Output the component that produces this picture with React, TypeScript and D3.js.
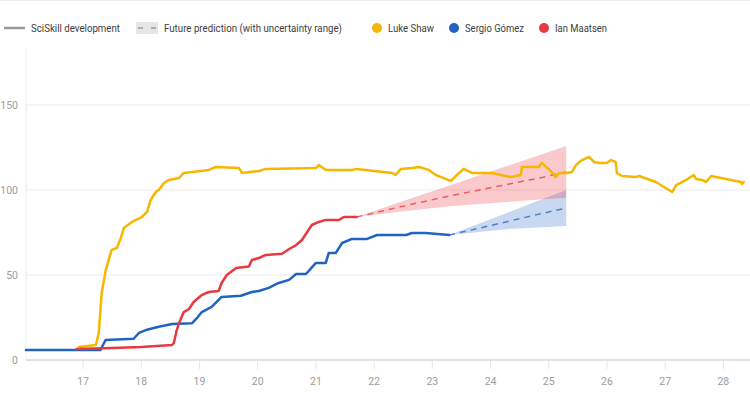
import React from 'react';
import * as d3 from 'd3';

// ages (years) and SciSkill values
const lukeAge = [16.93, 17.22, 17.27, 17.32, 17.39, 17.44, 17.49, 17.58, 17.65, 17.7, 17.84, 18.01, 18.1, 18.16, 18.25, 18.3, 18.39, 18.47, 18.65, 18.73, 19.16, 19.28, 19.68, 19.73, 20.02, 20.14, 21.0, 21.05, 21.17, 21.62, 21.7, 22.31, 22.37, 22.46, 22.65, 22.77, 22.94, 23.06, 23.23, 23.32, 23.46, 23.54, 23.68, 24.02, 24.26, 24.35, 24.52, 24.54, 24.83, 24.88, 25.05, 25.12, 25.18, 25.3, 25.4, 25.47, 25.55, 25.69, 25.78, 25.86, 26.0, 26.07, 26.15, 26.17, 26.26, 26.5, 26.55, 26.84, 27.12, 27.19, 27.36, 27.49, 27.53, 27.63, 27.7, 27.79, 28.3, 28.32, 28.35];
const lukeVal = [7.6, 8.8, 15.9, 39.4, 52.9, 58.8, 64.7, 65.9, 71.8, 77.6, 81.2, 84.1, 87.1, 94.1, 98.8, 100, 104.1, 105.9, 107.1, 110, 111.8, 113.5, 112.9, 110, 111.2, 112.4, 112.9, 114.7, 111.8, 111.8, 112.4, 110, 108.8, 112.4, 112.9, 113.5, 111.8, 108.8, 106.5, 105.3, 110, 112.4, 110, 110, 108.2, 107.6, 108.8, 113.5, 113.5, 115.9, 110.6, 107.6, 110, 110, 110.6, 114.7, 117.1, 119.4, 116.5, 115.9, 115.9, 117.6, 116.5, 110, 108.2, 107.6, 108.2, 104.7, 98.8, 102.9, 105.9, 108.8, 106.5, 105.9, 104.7, 108.2, 104.7, 103.5, 104.7];

const sergioAge = [16.02, 17.3, 17.36, 17.39, 17.87, 17.96, 18.08, 18.3, 18.53, 18.87, 18.94, 19.04, 19.21, 19.38, 19.71, 19.9, 20.02, 20.19, 20.36, 20.54, 20.66, 20.83, 21.0, 21.17, 21.22, 21.34, 21.45, 21.62, 21.88, 22.05, 22.55, 22.65, 22.89, 23.29];
const sergioVal = [5.9, 5.9, 10, 11.8, 12.5, 15.9, 17.6, 19.6, 21.2, 21.6, 24, 28.2, 31.2, 37.1, 37.8, 40, 40.6, 42.4, 45.3, 47.1, 50.6, 50.6, 57.1, 57.1, 62.9, 62.9, 68.8, 71.2, 71.2, 73.5, 73.5, 74.7, 74.7, 73.5];

const ianAge = [16.89, 17.5, 18.0, 18.53, 18.56, 18.61, 18.65, 18.73, 18.82, 18.9, 19.04, 19.16, 19.33, 19.38, 19.47, 19.63, 19.85, 19.9, 20.02, 20.14, 20.42, 20.54, 20.66, 20.76, 20.85, 20.93, 21.05, 21.17, 21.4, 21.48, 21.7];
const ianVal = [6.5, 7, 7.6, 8.8, 10, 17.6, 21.8, 28.2, 30, 34.1, 38.2, 40, 40.6, 45.3, 50, 54.1, 55, 58.8, 60, 61.8, 62.5, 65.3, 67.6, 70.6, 75.3, 79.4, 81.2, 82.4, 82.4, 84.1, 84.1];

// predictions: age, expected, low, high
const sergioPredAge = [23.29, 23.8, 24.3, 24.8, 25.3];
const sergioPredMid = [73.5, 77.5, 81.5, 85.5, 89.4];
const sergioPredLo = [73.5, 75.3, 77, 78, 78.8];
const sergioPredHi = [73.5, 80.2, 86.8, 93.4, 100];

const ianPredAge = [21.7, 22.5, 23.3, 24.1, 24.9, 25.3];
const ianPredMid = [84.1, 90.5, 96.5, 102, 107.5, 110.6];
const ianPredLo = [84.1, 87.5, 90.5, 92.5, 94.5, 95.3];
const ianPredHi = [84.1, 93.5, 102.7, 112, 121.2, 125.9];

const yTicks = [0, 50, 100, 150];
const xTicks = [17, 18, 19, 20, 21, 22, 23, 24, 25, 26, 27, 28];

const players = [
  { name: 'Luke Shaw', color: '#f5b700', age: lukeAge, val: lukeVal },
  { name: 'Sergio Gómez', color: '#2163c3', age: sergioAge, val: sergioVal },
  { name: 'Ian Maatsen', color: '#e8393f', age: ianAge, val: ianVal },
];
const predictions = [
  { color: '#2163c3', age: sergioPredAge, mid: sergioPredMid, lo: sergioPredLo, hi: sergioPredHi, op: 0.25 },
  { color: '#e8393f', age: ianPredAge, mid: ianPredMid, lo: ianPredLo, hi: ianPredHi, op: 0.27 },
];

// legend placement (x of marker, x/width of label)
const legendPlayers = [
  { cx: 377, tx: 388, tw: 46 },
  { cx: 454, tx: 465, tw: 59 },
  { cx: 544, tx: 555, tw: 52 },
];

const W = 750;
const H = 394;
const font = 'Roboto, sans-serif';

export default function App() {
  const x = d3.scaleLinear().domain([16.02, 28.44]).range([26, 749]);
  const y = d3.scaleLinear().domain([0, 183.5]).range([360, 48]);

  const line = d3.line<[number, number]>().x(d => x(d[0])).y(d => y(d[1]));
  const area = d3
    .area<[number, number, number]>()
    .x(d => x(d[0]))
    .y0(d => y(d[1]))
    .y1(d => y(d[2]));

  return (
    <div style={{ position: 'absolute', left: 0, top: 0 }}>
      <svg width={W} height={H} style={{ display: 'block', fontFamily: font }}>
        <rect x={0} y={0} width={W} height={1} fill="#ececec" />

        {/* legend */}
        <g transform="translate(0,28)" fontSize={11.5} fill="#3d3d3d">
          <line x1={4} x2={25} y1={0} y2={0} stroke="#9a9a9a" strokeWidth={2.5} />
          <text x={31} y={4} textLength={89} lengthAdjust="spacingAndGlyphs">SciSkill development</text>
          <rect x={136} y={-6} width={22} height={12} fill="#e6e6e6" />
          <line x1={138} x2={156} y1={0} y2={0} stroke="#9a9a9a" strokeWidth={1.5} strokeDasharray="5,8" />
          <text x={164} y={4} textLength={178} lengthAdjust="spacingAndGlyphs">Future prediction (with uncertainty range)</text>
          {players.map((p, i) => {
            const l = legendPlayers[i];
            return (
              <g key={p.name}>
                <circle cx={l.cx} cy={0} r={5} fill={p.color} />
                <text x={l.tx} y={4} textLength={l.tw} lengthAdjust="spacingAndGlyphs">{p.name}</text>
              </g>
            );
          })}
        </g>

        {/* grid */}
        <line x1={26} x2={26} y1={48} y2={360} stroke="#ececec" />
        {yTicks.map(t => (
          <g key={t}>
            <line x1={26} x2={W} y1={y(t)} y2={y(t)} stroke={t === 0 ? '#e2e2e2' : '#ececec'} strokeWidth={t === 0 ? 2 : 1} />
            <text x={18} y={y(t)} dy="0.35em" textAnchor="end" fontSize={10.5} fill="#9c9c9c">{t}</text>
          </g>
        ))}
        {xTicks.map(t => (
          <g key={t}>
            <line x1={x(t)} x2={x(t)} y1={361} y2={369} stroke="#e6e6e6" />
            <text x={x(t)} y={381} dy="0.35em" textAnchor="middle" fontSize={10.5} fill="#9c9c9c">{t}</text>
          </g>
        ))}

        {/* uncertainty bands and predictions */}
        {predictions.map((p, i) => (
          <path
            key={'band' + i}
            d={area(p.age.map((a, j) => [a, p.lo[j], p.hi[j]] as [number, number, number])) || ''}
            fill={p.color}
            fillOpacity={p.op}
          />
        ))}
        {predictions.map((p, i) => (
          <path
            key={'pred' + i}
            d={line(p.age.map((a, j) => [a, p.mid[j]] as [number, number])) || ''}
            fill="none"
            stroke={p.color}
            strokeOpacity={0.75}
            strokeWidth={1.5}
            strokeDasharray="6,5"
          />
        ))}

        {/* actual development */}
        {players.map(p => (
          <path
            key={p.name}
            d={line(p.age.map((a, j) => [a, p.val[j]] as [number, number])) || ''}
            fill="none"
            stroke={p.color}
            strokeWidth={2.5}
            strokeLinejoin="round"
            strokeLinecap="round"
          />
        ))}
      </svg>
    </div>
  );
}
